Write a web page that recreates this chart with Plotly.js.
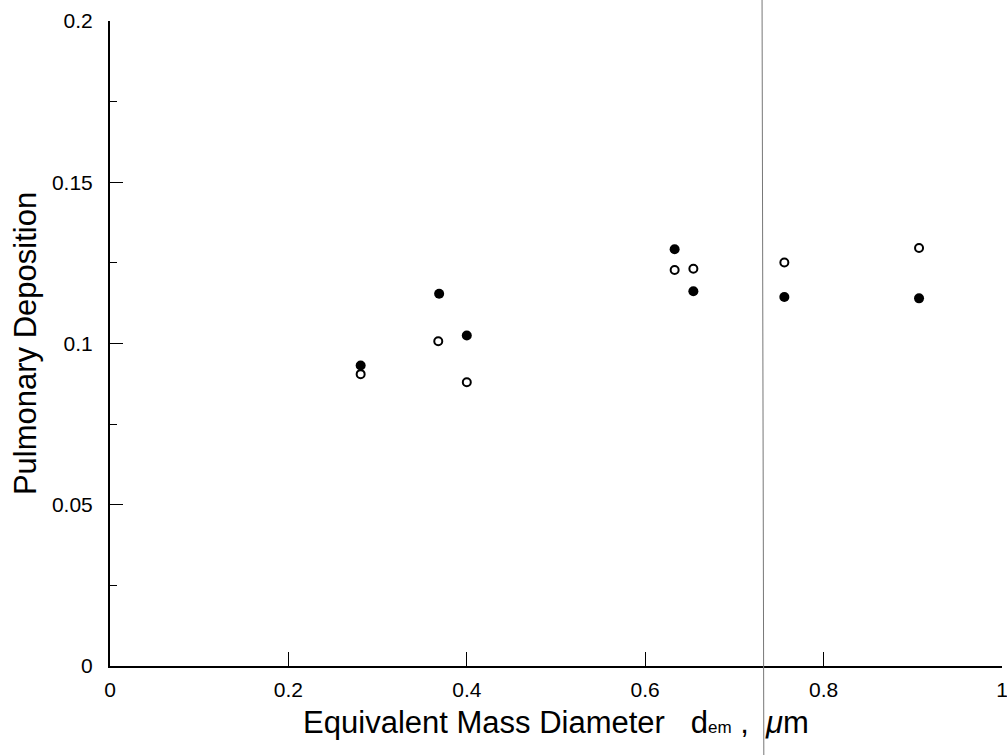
<!DOCTYPE html>
<html>
<head>
<meta charset="utf-8">
<script src="https://cdn.plot.ly/plotly-3.0.1.min.js"></script>
<style>html,body{margin:0;padding:0;background:#fff;}#chart{width:1007px;height:755px;}</style>
</head>
<body>
<div id="chart"></div>
<script>
// Filled circles
const filledX = [0.281, 0.369, 0.400, 0.633, 0.654, 0.756, 0.907];
const filledY = [0.0932, 0.1154, 0.1025, 0.1292, 0.1162, 0.1144, 0.1140];
// Open circles
const openX = [0.281, 0.368, 0.400, 0.633, 0.654, 0.756, 0.907];
const openY = [0.0905, 0.1007, 0.0880, 0.1228, 0.1232, 0.1251, 0.1296];

const xTickVals = [0, 0.2, 0.4, 0.6, 0.8, 1];
const xTickText = ["0", "0.2", "0.4", "0.6", "0.8", "1"];
const yTickVals = [0, 0.05, 0.1, 0.15, 0.2];
const yTickText = ["0", "0.05", "0.1", "0.15", "0.2"];

const FONT = 'Liberation Sans, Arial, sans-serif';

const traces = [
  {x: filledX, y: filledY, type: 'scatter', mode: 'markers', name: 'filled',
   marker: {symbol: 'circle', size: 10, color: '#000'}},
  {x: openX, y: openY, type: 'scatter', mode: 'markers', name: 'open',
   marker: {symbol: 'circle-open', size: 8, color: '#000', line: {width: 2, color: '#000'}}}
];

const layout = {
  width: 1007, height: 755,
  margin: {l: 110, r: 5, t: 21, b: 89},
  paper_bgcolor: '#fff', plot_bgcolor: '#fff',
  showlegend: false,
  font: {family: FONT, color: '#000', size: 21},
  xaxis: {
    range: [0, 1], showgrid: false, zeroline: false,
    showline: true, linecolor: '#000', linewidth: 2,
    ticks: 'inside', ticklen: 14, tickwidth: 1, tickcolor: '#000',
    tickvals: xTickVals, ticktext: xTickText, ticklabelstandoff: 4,
    ticklabeloverflow: 'allow',
    tickfont: {family: FONT, size: 21, color: '#000'},
    title: {text: 'Equivalent Mass Diameter   d<span style="font-size:17px">em</span> ,  <i>μ</i>m',
            font: {family: FONT, size: 31, color: '#000'}, standoff: 11}
  },
  yaxis: {
    range: [0, 0.2], showgrid: false, zeroline: false,
    showline: true, linecolor: '#000', linewidth: 2,
    ticks: 'inside', ticklen: 13, tickwidth: 1, tickcolor: '#000',
    tickvals: yTickVals, ticktext: yTickText, ticklabelstandoff: 11,
    minor: {ticks: 'inside', ticklen: 7, dtick: 0.025, tickcolor: '#000', tickwidth: 1},
    tickfont: {family: FONT, size: 21, color: '#000'},
    title: {text: 'Pulmonary Deposition',
            font: {family: FONT, size: 31, color: '#000'}, standoff: 6}
  },
  shapes: [
    {type: 'line', xref: 'x', yref: 'paper', x0: 0.733, x1: 0.731, y0: -0.15, y1: 1.04,
     line: {color: '#777', width: 1}}
  ]
};

Plotly.newPlot('chart', traces, layout, {displayModeBar: false, staticPlot: true});
</script>
</body>
</html>
